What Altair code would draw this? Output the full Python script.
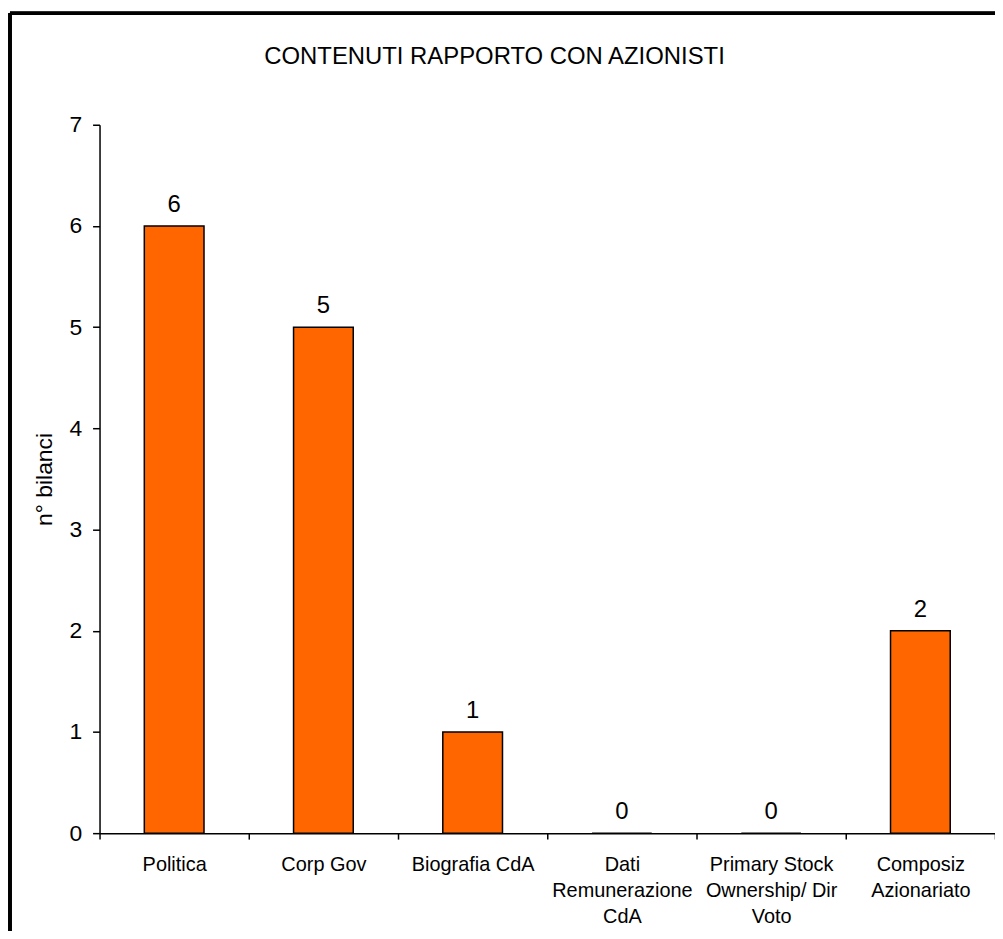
import altair as alt
import pandas as pd

categories = [
    "Politica",
    "Corp Gov",
    "Biografia CdA",
    "Dati\nRemunerazione\nCdA",
    "Primary Stock\nOwnership/ Dir\nVoto",
    "Composiz\nAzionariato",
]
values = [6, 5, 1, 0, 0, 2]
y_ticks = [0, 1, 2, 3, 4, 5, 6, 7]
chart_title = "CONTENUTI RAPPORTO CON AZIONISTI"

df = pd.DataFrame({"cat": categories, "val": values})
title_df = pd.DataFrame({"t": [chart_title]})

FONT = "Liberation Sans"

x_enc = alt.X(
    "cat:N",
    sort=categories,
    scale=alt.Scale(paddingInner=0, paddingOuter=0),
    axis=alt.Axis(
        title=None,
        labelAngle=0,
        labelFont=FONT,
        labelFontSize=20,
        labelColor="black",
        labelLineHeight=26,
        labelPadding=16,
        labelExpr="datum.value ? split(datum.value, '\\n') : ''",
        tickBand="extent",
        ticks=True,
        tickColor="black",
        tickSize=6,
        tickWidth=1.5,
        domainColor="black",
        domainWidth=1.5,
        grid=False,
    ),
)

y_enc = alt.Y(
    "val:Q",
    scale=alt.Scale(domain=[0, 7], nice=False),
    axis=alt.Axis(
        title="n° bilanci",
        titleFont=FONT,
        titleFontSize=23,
        titleFontWeight="normal",
        titleColor="black",
        titleX=-55,
        titleY=356,
        titleAngle=-90,
        titleAlign="center",
        titleBaseline="middle",
        values=y_ticks,
        format="d",
        labelFont=FONT,
        labelFontSize=23,
        labelColor="black",
        labelPadding=11,
        tickColor="black",
        tickSize=7,
        tickWidth=1.5,
        domainColor="black",
        domainWidth=1.5,
        grid=False,
    ),
)

bars = alt.Chart(df).mark_bar(
    color="#FF6600", stroke="black", strokeWidth=1.5,
    width=alt.RelativeBandSize(0.4),
).encode(x=x_enc, y=y_enc)

labels = alt.Chart(df).mark_text(
    font=FONT, fontSize=24, color="black", baseline="bottom", dy=-9
).encode(x=alt.X("cat:N", sort=categories), y="val:Q", text="val:Q")

title_mark = alt.Chart(title_df).mark_text(
    font=FONT, fontSize=24, color="black", baseline="alphabetic", align="center"
).encode(x=alt.value(397), y=alt.value(-61), text="t:N")

border_left = alt.Chart(df).mark_rule(color="black", strokeWidth=3).encode(
    x=alt.value(-90), y=alt.value(-112), y2=alt.value(900)
)
border_top = alt.Chart(df).mark_rule(color="black", strokeWidth=3).encode(
    x=alt.value(-90), x2=alt.value(1000), y=alt.value(-112)
)

chart = (
    alt.layer(border_left, border_top, title_mark, bars, labels)
    .properties(
        width=900,
        height=712,
        autosize=alt.AutoSizeParams(type="none"),
        padding={"left": 92, "top": 115, "right": 0, "bottom": 96},
    )
    .configure_view(stroke=None)
)

chart.save("out.html", embed_options={"renderer": "svg", "actions": False})
